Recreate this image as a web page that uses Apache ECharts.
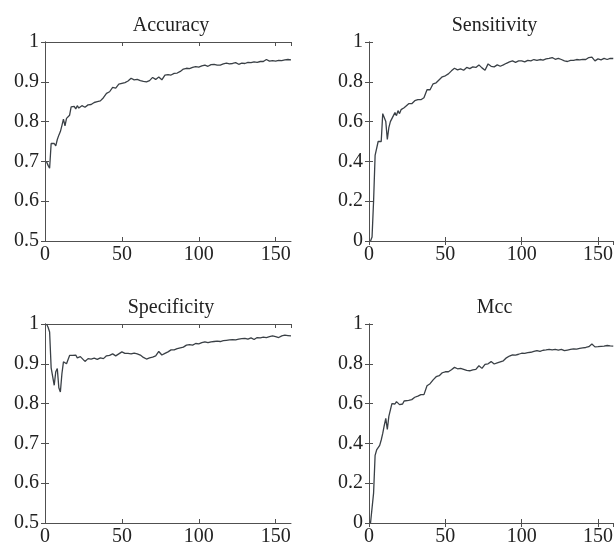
<!DOCTYPE html>
<html>
<head>
<meta charset="utf-8">
<script src="https://cdn.jsdelivr.net/npm/echarts@6/dist/echarts.min.js"></script>
<style>
html,body{margin:0;padding:0;background:#fff;}
#chart{width:616px;height:551px;}
</style>
</head>
<body>
<div id="chart"></div>
<script>
var titles = ['Accuracy', 'Sensitivity', 'Specificity', 'Mcc'];
var epochs = [1,2,3,4,5,6,7,8,9,10,11,12,13,14,15,16,17,18,19,20,21,22,23,24,
  26,28,30,32,34,36,38,40,42,44,46,48,50,52,54,56,58,60,62,64,66,68,70,72,74,76,78,80,
  82,84,86,88,90,92,94,96,98,100,102,104,106,108,110,112,114,116,118,120,122,124,126,128,130,
  132,134,136,138,140,142,144,146,148,150,152,154,156,158,160];
var accuracy = [0.699,0.69,0.683,0.745,0.75,0.745,0.739,0.755,0.766,0.775,0.79,0.806,0.789,0.808,0.812,0.816,0.837,0.834,0.838,0.832,0.84,0.834,0.836,0.84,
  0.836,0.842,0.843,0.848,0.85,0.852,0.86,0.871,0.875,0.886,0.884,0.894,0.896,0.898,0.902,0.909,0.905,0.906,0.903,0.901,0.9,0.903,0.911,0.906,0.912,0.905,0.917,0.918,
  0.917,0.921,0.922,0.926,0.932,0.934,0.933,0.936,0.938,0.937,0.94,0.942,0.939,0.943,0.944,0.942,0.942,0.945,0.947,0.945,0.946,0.948,0.944,0.947,0.946,
  0.949,0.948,0.95,0.949,0.951,0.951,0.956,0.952,0.953,0.952,0.954,0.953,0.955,0.956,0.955];
var sensitivity = [0.0,0.02,0.2,0.43,0.43,0.5,0.505,0.5,0.64,0.65,0.6,0.51,0.57,0.6,0.61,0.63,0.645,0.63,0.655,0.64,0.66,0.655,0.67,0.665,
  0.69,0.69,0.705,0.71,0.71,0.72,0.76,0.76,0.79,0.795,0.81,0.825,0.83,0.84,0.855,0.868,0.86,0.865,0.858,0.872,0.866,0.875,0.872,0.885,0.87,0.858,0.89,0.878,
  0.875,0.885,0.878,0.885,0.893,0.9,0.905,0.898,0.905,0.905,0.9,0.908,0.905,0.912,0.908,0.912,0.909,0.915,0.918,0.922,0.913,0.918,0.912,0.905,0.902,
  0.908,0.908,0.912,0.91,0.913,0.912,0.922,0.924,0.905,0.915,0.91,0.918,0.912,0.918,0.917];
var specificity = [1.0,0.992,0.98,0.89,0.888,0.846,0.88,0.888,0.84,0.829,0.875,0.905,0.91,0.9,0.898,0.921,0.922,0.921,0.92,0.922,0.915,0.913,0.918,0.915,
  0.906,0.913,0.912,0.914,0.911,0.915,0.913,0.92,0.921,0.925,0.92,0.925,0.93,0.926,0.926,0.925,0.927,0.925,0.922,0.916,0.912,0.915,0.917,0.92,0.931,0.922,0.926,0.93,
  0.935,0.935,0.938,0.94,0.942,0.947,0.948,0.947,0.951,0.95,0.953,0.955,0.953,0.955,0.956,0.957,0.956,0.958,0.959,0.96,0.961,0.96,0.962,0.963,0.964,
  0.962,0.965,0.961,0.966,0.965,0.967,0.966,0.968,0.97,0.968,0.966,0.97,0.972,0.971,0.97];
var mcc = [0,0,0.15,0.34,0.367,0.367,0.39,0.417,0.45,0.49,0.526,0.47,0.536,0.544,0.6,0.61,0.598,0.61,0.613,0.595,0.6,0.598,0.613,0.608,
  0.616,0.62,0.632,0.638,0.645,0.645,0.69,0.7,0.719,0.735,0.74,0.755,0.76,0.76,0.77,0.782,0.775,0.777,0.772,0.767,0.765,0.77,0.772,0.79,0.777,0.797,0.8,0.811,
  0.799,0.805,0.81,0.815,0.83,0.839,0.845,0.844,0.848,0.853,0.852,0.856,0.858,0.862,0.866,0.862,0.868,0.87,0.873,0.87,0.872,0.869,0.872,0.866,0.869,
  0.872,0.875,0.874,0.878,0.88,0.882,0.886,0.899,0.885,0.886,0.888,0.889,0.892,0.89,0.889];
var xTicks = [0, 50, 100, 150];
var yMins = [0.5, 0, 0.5, 0];
var yIntervals = [0.1, 0.2, 0.1, 0.2];

var seriesData = [accuracy, sensitivity, specificity, mcc];
var grids = [
  {left: 45, top: 42, width: 246, height: 199},
  {left: 369, top: 42, width: 245, height: 199},
  {left: 45, top: 324, width: 246, height: 199},
  {left: 369, top: 324, width: 245, height: 199}
];
var FONT = '"Liberation Serif", "Times New Roman", serif';
var AX = '#505050';
var option = {
  backgroundColor: '#ffffff',
  animation: false,
  title: [], grid: [], xAxis: [], yAxis: [], series: []
};
grids.forEach(function (g, i) {
  option.grid.push({left: g.left, top: g.top, width: g.width, height: g.height, containLabel: false});
  option.title.push({
    text: titles[i], left: g.left + g.width / 2 - 2, top: g.top - 31, textAlign: 'center',
    textStyle: {fontFamily: FONT, fontSize: 20, fontWeight: 'normal', color: '#222'}
  });
  var xCommon = {type: 'value', gridIndex: i, min: 0, max: 160, interval: 50,
    axisLine: {show: true, lineStyle: {color: AX, width: 1}},
    axisTick: {show: true, inside: true, length: 4, lineStyle: {color: AX}},
    splitLine: {show: false}};
  option.xAxis.push(Object.assign({}, xCommon, {position: 'bottom',
    axisLabel: {show: true, margin: 4, fontFamily: FONT, fontSize: 20, color: '#222', showMaxLabel: false,
      formatter: function (v) { return xTicks.indexOf(v) >= 0 ? String(v) : ''; }}}));
  option.xAxis.push(Object.assign({}, xCommon, {position: 'top', axisLabel: {show: false}}));
  var yCommon = {type: 'value', gridIndex: i, min: yMins[i], max: 1, interval: yIntervals[i],
    axisLine: {show: true, lineStyle: {color: AX, width: 1}},
    axisTick: {show: true, inside: true, length: 4, lineStyle: {color: AX}},
    splitLine: {show: false}};
  option.yAxis.push(Object.assign({}, yCommon, {position: 'left',
    axisLabel: {show: true, margin: 6, fontFamily: FONT, fontSize: 20, color: '#222',
      formatter: function (v) { return String(Math.round(v * 10) / 10); }}}));
  option.yAxis.push(Object.assign({}, yCommon, {position: 'right', axisLabel: {show: false}}));
  var d = seriesData[i];
  option.series.push({
    type: 'line', xAxisIndex: 2 * i, yAxisIndex: 2 * i, showSymbol: false, symbol: 'none',
    lineStyle: {color: '#3a4046', width: 1.3},
    data: epochs.map(function (x, k) { return [x, d[k]]; })
  });
});
var chart = echarts.init(document.getElementById('chart'), null, {renderer: 'canvas'});
chart.setOption(option);
</script>
</body>
</html>
